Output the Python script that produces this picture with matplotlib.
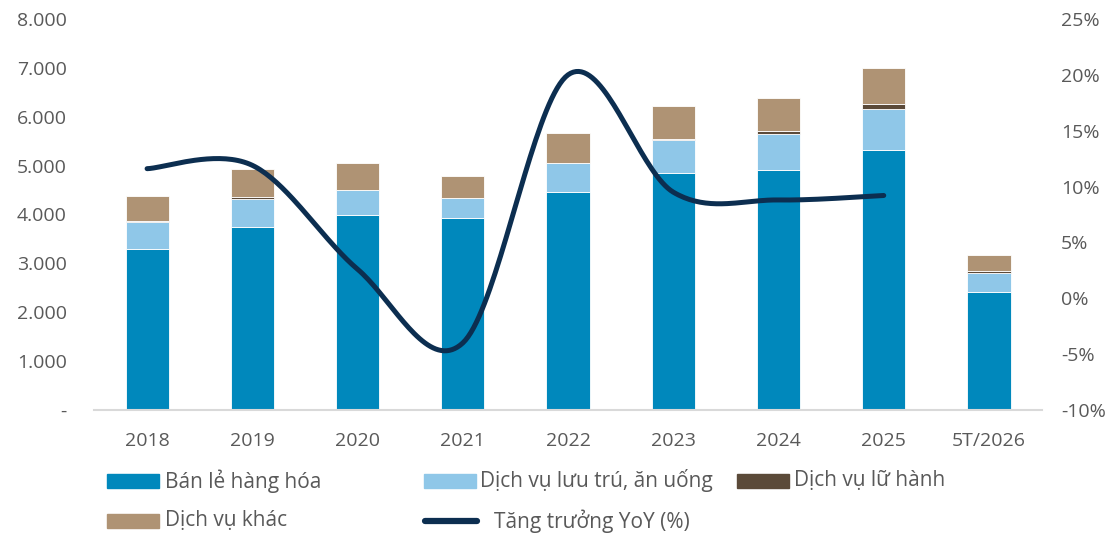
import numpy as np
import matplotlib.pyplot as plt
from matplotlib.patches import Rectangle
from matplotlib.lines import Line2D
from matplotlib.ticker import FuncFormatter

plt.rcParams['font.family'] = ['Open Sans', 'DejaVu Sans']

years = ['2018', '2019', '2020', '2021', '2022', '2023', '2024', '2025', '5T/2026']
ban_le = [3300, 3740, 3980, 3930, 4470, 4840, 4910, 5320, 2410]
luu_tru = [540, 580, 520, 410, 580, 680, 740, 840, 400]
lu_hanh = [30, 40, 5, 5, 10, 30, 50, 100, 40]
khac = [510, 570, 545, 450, 600, 670, 680, 730, 330]
yoy = [11.6, 11.9, 2.6, -4.0, 20.0, 9.5, 8.8, 9.2]

series = [
    ('Bán lẻ hàng hóa', ban_le, '#0088bc'),
    ('Dịch vụ lưu trú, ăn uống', luu_tru, '#8fc7e8'),
    ('Dịch vụ lữ hành', lu_hanh, '#5b4a39'),
    ('Dịch vụ khác', khac, '#af9374'),
]
line_color = '#0c2e50'
text_color = '#595959'


def smooth(xs, ys, n=40):
    # bezier segments with catmull-rom tangents (spreadsheet-style smoothed line)
    xs = np.asarray(xs, float)
    ys = np.asarray(ys, float)
    px, py = [], []
    m = len(xs)
    for i in range(m - 1):
        i0 = max(i - 1, 0)
        i3 = min(i + 2, m - 1)
        c1x = xs[i] + (xs[i + 1] - xs[i0]) / 6
        c1y = ys[i] + (ys[i + 1] - ys[i0]) / 6
        c2x = xs[i + 1] - (xs[i3] - xs[i]) / 6
        c2y = ys[i + 1] - (ys[i3] - ys[i]) / 6
        t = np.linspace(0, 1, n)
        a, b, c, d = (1 - t) ** 3, 3 * (1 - t) ** 2 * t, 3 * (1 - t) * t ** 2, t ** 3
        px.append(a * xs[i] + b * c1x + c * c2x + d * xs[i + 1])
        py.append(a * ys[i] + b * c1y + c * c2y + d * ys[i + 1])
    return np.concatenate(px), np.concatenate(py)


fig = plt.figure(figsize=(11.14, 5.33), dpi=100)
ax = fig.add_axes([0.0848, 0.2308, 0.8502, 0.7336])
x = np.arange(len(years))

bottom = np.zeros(len(years))
for name, vals, col in series:
    ax.bar(x, vals, width=0.41, bottom=bottom, color=col,
           edgecolor='white', linewidth=0.6, zorder=2)
    bottom += np.array(vals)

ax.set_xlim(-0.5, len(years) - 0.5)
ax.set_ylim(0, 8000)
ax.set_yticks(np.arange(0, 8001, 1000))
ax.yaxis.set_major_formatter(FuncFormatter(
    lambda v, p: '-' if v == 0 else f'{int(v):,}'.replace(',', '.')))
ax.set_xticks(x)
ax.set_xticklabels(years)
ax.tick_params(axis='both', length=0, labelsize=14, colors=text_color)
ax.tick_params(axis='y', pad=20)
ax.tick_params(axis='x', pad=16)
for s in ['top', 'right', 'left']:
    ax.spines[s].set_visible(False)
ax.spines['bottom'].set_color('#d9d9d9')
ax.spines['bottom'].set_linewidth(1.5)

ax2 = ax.twinx()
sx, sy = smooth(x[:len(yoy)], yoy)
ax2.plot(sx, sy, color=line_color, lw=3.6, solid_capstyle='round', zorder=3)
ax2.set_ylim(-10, 25)
ax2.set_yticks(np.arange(-10, 26, 5))
ax2.yaxis.set_major_formatter(FuncFormatter(lambda v, p: f'{int(v)}%'))
ax2.tick_params(axis='y', length=0, labelsize=14, colors=text_color, pad=14)
for s in ax2.spines.values():
    s.set_visible(False)

# legend drawn by hand in figure pixels
W, H = 1114, 533


def patch_entry(px, py, col, label, tx):
    fig.add_artist(Rectangle((px / W, 1 - (py + 7) / H), 52 / W, 14 / H,
                             transform=fig.transFigure, color=col))
    fig.text(tx / W, 1 - py / H, label, fontsize=15, color=text_color,
             va='center', ha='left')


patch_entry(107, 481, series[0][2], series[0][0], 165)
patch_entry(424, 481, series[1][2], series[1][0], 480)
patch_entry(737, 481, series[2][2], series[2][0], 794)
patch_entry(107, 521, series[3][2], series[3][0], 165)
fig.add_artist(Line2D([425 / W, 477 / W], [1 - 521 / H, 1 - 521 / H],
                      transform=fig.transFigure, color=line_color, lw=4.5,
                      solid_capstyle='round'))
fig.text(494 / W, 1 - 521 / H, 'Tăng trưởng YoY (%)', fontsize=15,
         color=text_color, va='center', ha='left')

fig.savefig('out.png', dpi=100)
